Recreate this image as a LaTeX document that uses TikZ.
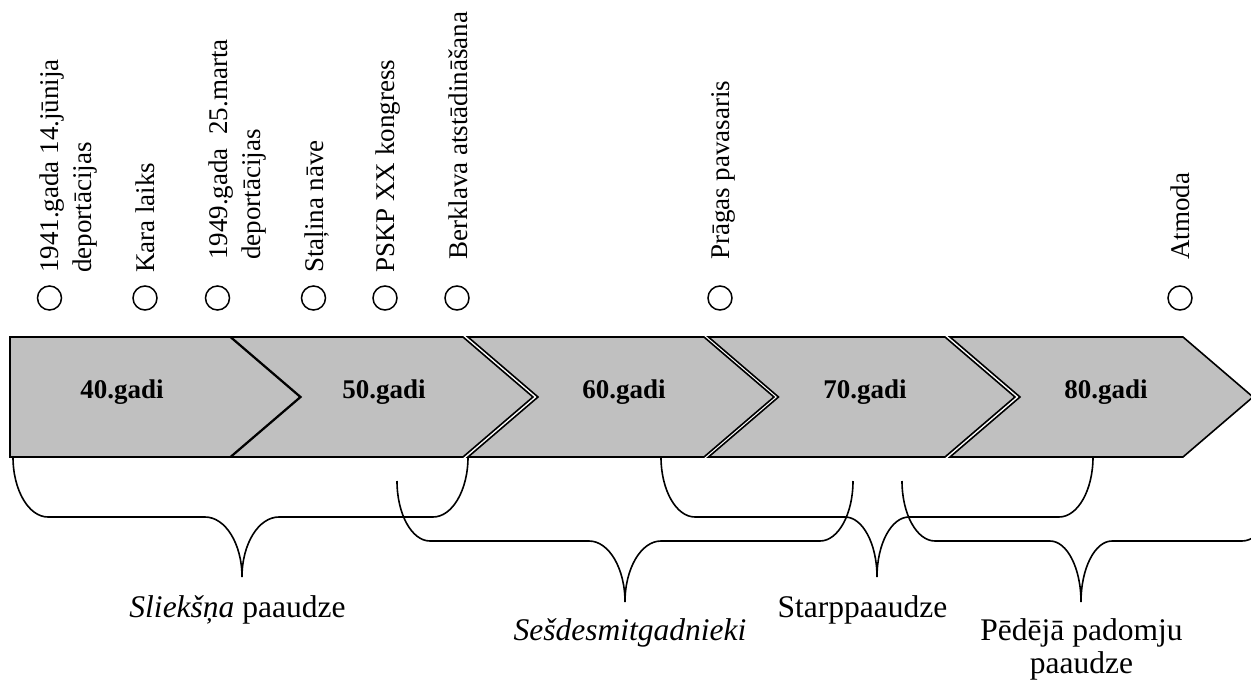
\documentclass[tikz,border=0pt]{standalone}
\usepackage{fontspec}
\setmainfont{Liberation Serif}
\definecolor{chevgray}{RGB}{192,192,192}
\newcommand\genbrace[8]{% xL,xR,yT,yM,yB,xT,r,rt
  \draw[brc] (#1,#3) .. controls (#1,{#3+0.552*(#4-#3)}) and ({#1+0.448*#7},#4) .. ({#1+#7},#4)
    -- ({#6-#8},#4) .. controls ({#6-0.448*#8},#4) and (#6,{#5-0.552*(#5-#4)}) .. (#6,#5)
    .. controls (#6,{#5-0.552*(#5-#4)}) and ({#6+0.448*#8},#4) .. ({#6+#8},#4)
    -- ({#2-#7},#4) .. controls ({#2-0.448*#7},#4) and (#2,{#3+0.552*(#4-#3)}) .. (#2,#3);}
\begin{document}
\begin{tikzpicture}[x=1pt,y=-1pt,
  chev/.style={fill=chevgray, draw=black, line width=1.6pt, line join=miter},
  brc/.style={draw=black, line width=1.6pt},
  ev/.style={circle, draw, line width=1.5pt, minimum size=24pt, inner sep=0pt},
  evlabel/.style={rotate=90, anchor=base west, inner sep=0pt, font=\fontsize{27}{33}\selectfont},
  dec/.style={font=\bfseries\fontsize{27}{33}\selectfont, inner sep=0pt, anchor=base},
  gen/.style={font=\fontsize{31.5}{33}\selectfont, inner sep=0pt, anchor=base}]
\useasboundingbox (0,0) rectangle (1251,680);
\clip (0,0) rectangle (1251,680);

% chevrons
\path[chev] (10,337) -- (230,337) -- (300,397) -- (230,457) -- (10,457) -- cycle;
\path[chev] (231,337) -- (463,337) -- (533,397) -- (463,457) -- (231,457) -- (301,397) -- cycle;
\path[chev] (468,337) -- (704,337) -- (774,397) -- (704,457) -- (468,457) -- (538,397) -- cycle;
\path[chev] (708.5,337) -- (945,337) -- (1015,397) -- (945,457) -- (708.5,457) -- (778.5,397) -- cycle;
\path[chev] (950,337) -- (1183,337) -- (1253,397) -- (1183,457) -- (950,457) -- (1020,397) -- cycle;

\node[dec] (d40) at (122,398) {40.gadi};
\node[dec] (d50) at (384,398) {50.gadi};
\node[dec] (d60) at (624,398) {60.gadi};
\node[dec] (d70) at (865,398) {70.gadi};
\node[dec] (d80) at (1106,398) {80.gadi};

% events
\node[ev] (c1) at (49.5,298) {};
\node[ev] (c2) at (145,298) {};
\node[ev] (c3) at (217.5,298) {};
\node[ev] (c4) at (313.5,298) {};
\node[ev] (c5) at (385,298) {};
\node[ev] (c6) at (457,298) {};
\node[ev] (c7) at (720,298) {};
\node[ev] (c8) at (1180,298) {};

\node[evlabel] (l1a) at (58,273) {1941.gada 14.jūnija};
\node[evlabel] (l1b) at (91,273) {deportācijas};
\node[evlabel] (l2) at (154,273) {Kara laiks};
\node[evlabel] (l3a) at (227,260) {1949.gada\ \ 25.marta};
\node[evlabel] (l3b) at (260,260) {deportācijas};
\node[evlabel] (l4) at (323,273) {Staļina nāve};
\node[evlabel] (l5) at (394,273) {PSKP XX kongress};
\node[evlabel] (l6) at (467,260) {Berklava atstādināšana};
\node[evlabel] (l7) at (729.5,260) {Prāgas pavasaris};
\node[evlabel] (l8) at (1189.5,260) {Atmoda};

% braces
\genbrace{13}{468}{457}{517}{577}{242}{35}{37}
\genbrace{397}{853}{481}{541}{602}{625}{33}{36}
\genbrace{661}{1093}{457}{517}{577}{877}{34}{32}
\genbrace{902}{1275}{481}{541}{602}{1081}{33}{31}

% generation labels
\node[gen] (g1) at (237.5,617) {\textit{Sliekšņa} paaudze};
\node[gen] (g2) at (630,640) {\textit{Sešdesmitgadnieki}};
\node[gen] (g3) at (862.5,617) {Starppaaudze};
\node[gen] (g4a) at (1081.5,640) {Pēdējā padomju};
\node[gen] (g4b) at (1081.5,673) {paaudze};
\end{tikzpicture}
\end{document}
